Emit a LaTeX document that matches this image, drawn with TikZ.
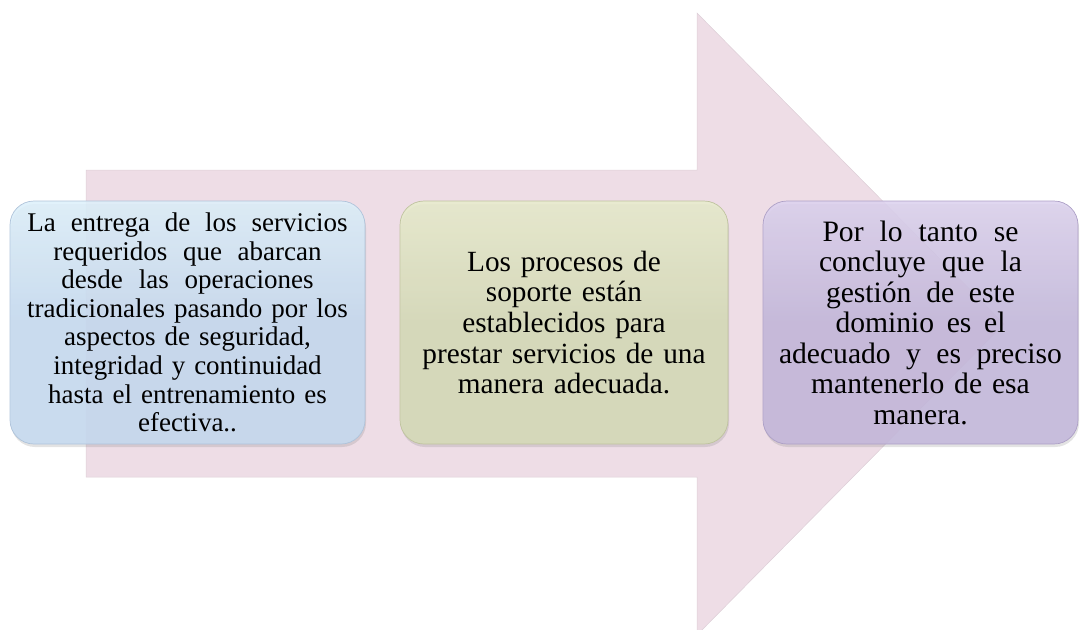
\documentclass[tikz,border=0pt]{standalone}
\usepackage{fontspec}
\setmainfont{Liberation Serif}
\usetikzlibrary{shadows}
\definecolor{arrowpink}{HTML}{EEDDE6}
\definecolor{bluemain}{HTML}{C6DAF0}
\definecolor{bluelight}{HTML}{DDF0FA}
\definecolor{blueedge}{HTML}{AFC3DA}
\definecolor{greenmain}{HTML}{D6DBB8}
\definecolor{greenlight}{HTML}{E8ECCD}
\definecolor{greenedge}{HTML}{BFC39F}
\definecolor{purplemain}{HTML}{C4B8DB}
\definecolor{purplelight}{HTML}{DCD2EE}
\definecolor{purpleedge}{HTML}{ADA0C6}
\newcommand{\spreadline}[2]{\makebox[#1]{\spreadwords#2 \relax}}
\def\spreadwords#1 #2\relax{#1\ifx\relax#2\relax\else\hfill\spreadwords#2\relax\fi}
\begin{document}
\begin{tikzpicture}[x=1pt,y=-1pt,
  card/.style={rectangle, rounded corners=24pt, inner sep=0pt,
    minimum height=243pt, align=center, text=black, line width=0.7pt,
    fill opacity=0.88, text opacity=1,
    drop shadow={opacity=0.22, shadow xshift=1pt, shadow yshift=-3pt}},
  bluecard/.style={card, minimum width=355pt, text width=330pt,
    top color=bluelight, bottom color=bluemain, middle color=bluemain, draw=blueedge,
    font=\fontsize{27}{28.6}\selectfont},
  greencard/.style={card, minimum width=328pt, text width=300pt,
    top color=greenlight, bottom color=greenmain, middle color=greenmain, draw=greenedge,
    font=\fontsize{29.3}{30.7}\selectfont},
  purplecard/.style={card, minimum width=315pt, text width=300pt,
    top color=purplelight, bottom color=purplemain, middle color=purplemain, draw=purpleedge,
    font=\fontsize{29.6}{30.5}\selectfont},
  bigarrow/.style={fill=arrowpink, draw=arrowpink!85!gray, line width=0.5pt}
]
\useasboundingbox (0,0) rectangle (1081,629);
\begin{scope}
\clip (0,0) rectangle (1081,629);
\draw[bigarrow] (86,170) -- (697,170) -- (697,13) -- (1004,324) -- (697,635)
  -- (697,477) -- (86,477) -- cycle;
\end{scope}

\node[bluecard] (b1) at (187.5,322.5) {%
\makebox[320pt]{La\hfill entrega\hfill de\hfill los\hfill servicios}\\
\makebox[268pt]{requeridos\hfill que\hfill abarcan}\\
\makebox[252pt]{desde\hfill las\hfill operaciones}\\
tradicionales pasando por los\\
aspectos de seguridad,\\
integridad y continuidad\\
hasta el entrenamiento es\\
efectiva..};

\node[greencard] (b2) at (564,322.5) {%
Los procesos de\\
soporte están\\
establecidos para\\
prestar servicios de una\\
manera adecuada.};

\node[purplecard] (b3) at (920.5,322.5) {%
\makebox[196pt]{Por\hfill lo\hfill tanto\hfill se}\\
\makebox[203pt]{concluye\hfill que\hfill la}\\
\makebox[189pt]{gestión\hfill de\hfill este}\\
\makebox[170pt]{dominio\hfill es\hfill el}\\
\makebox[283pt]{adecuado\hfill y\hfill es\hfill preciso}\\
mantenerlo de esa\\
manera.};
\end{tikzpicture}
\end{document}
